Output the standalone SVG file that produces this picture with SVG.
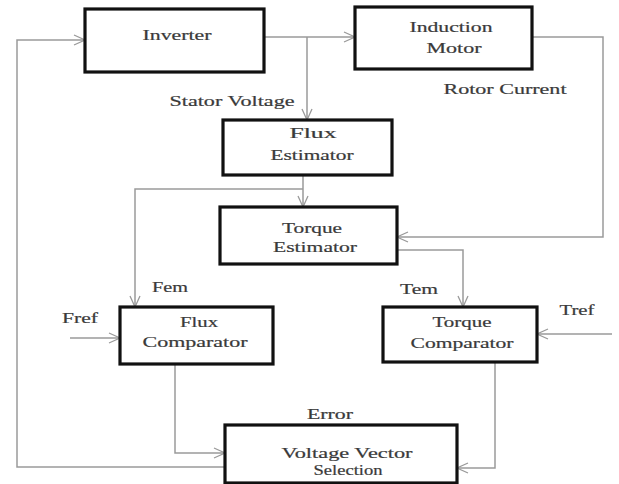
<svg xmlns="http://www.w3.org/2000/svg" width="619" height="484" viewBox="0 0 619 484">
<style>
.box{fill:#fff;stroke:#111;stroke-width:3.2}
.t{font-family:"Liberation Serif","Times New Roman",serif;font-size:14px;fill:#3a3a3a;text-anchor:middle;stroke:#3a3a3a;stroke-width:0.2}
.c{fill:none;stroke:#9a9a9a;stroke-width:1.5;marker-end:url(#a)}
</style>
<defs>
<marker id="a" markerWidth="14" markerHeight="12" refX="12" refY="6" orient="auto" markerUnits="userSpaceOnUse">
<path d="M1,1 L12,6 L1,11" fill="none" stroke="#9a9a9a" stroke-width="1.3"/>
</marker>
</defs>
<rect width="619" height="484" fill="#fff"/>
<g id="connectors">
<path class="c" d="M225,467 H17 V40 H85"/>
<path class="c" d="M264,37 H355"/>
<path class="c" d="M307,37 V120"/>
<path class="c" d="M532,37 H603 V237 H397"/>
<path class="c" d="M303,175 V207"/>
<path class="c" d="M303,189 H135 V307"/>
<path class="c" d="M397,250 H463 V307"/>
<path class="c" d="M70,338 H120"/>
<path class="c" d="M612,334 H537"/>
<path class="c" d="M175,364 V453 H225"/>
<path class="c" d="M495,362 V468 H457"/>
</g>
<g id="inverter">
<rect class="box" x="85" y="9" width="179" height="63"/>
<text class="t" x="177" y="40" textLength="69" lengthAdjust="spacingAndGlyphs">Inverter</text>
</g>
<g id="induction-motor">
<rect class="box" x="355" y="7" width="177" height="62"/>
<text class="t" x="451" y="32" textLength="83" lengthAdjust="spacingAndGlyphs">Induction</text>
<text class="t" x="454" y="53" textLength="55" lengthAdjust="spacingAndGlyphs">Motor</text>
</g>
<g id="flux-estimator">
<rect class="box" x="223" y="120" width="169" height="55"/>
<text class="t" x="313" y="138" textLength="47" lengthAdjust="spacingAndGlyphs">Flux</text>
<text class="t" x="312" y="160" textLength="83" lengthAdjust="spacingAndGlyphs">Estimator</text>
</g>
<g id="torque-estimator">
<rect class="box" x="220" y="207" width="177" height="57"/>
<text class="t" x="312" y="233" textLength="60" lengthAdjust="spacingAndGlyphs">Torque</text>
<text class="t" x="315" y="252" textLength="84" lengthAdjust="spacingAndGlyphs">Estimator</text>
</g>
<g id="flux-comparator">
<rect class="box" x="120" y="307" width="153" height="57"/>
<text class="t" x="199" y="327" textLength="38" lengthAdjust="spacingAndGlyphs">Flux</text>
<text class="t" x="195" y="347" textLength="105" lengthAdjust="spacingAndGlyphs">Comparator</text>
</g>
<g id="torque-comparator">
<rect class="box" x="383" y="307" width="154" height="55"/>
<text class="t" x="462" y="327" textLength="59" lengthAdjust="spacingAndGlyphs">Torque</text>
<text class="t" x="462" y="348" textLength="103" lengthAdjust="spacingAndGlyphs">Comparator</text>
</g>
<g id="voltage-vector-selection">
<rect class="box" x="225" y="425" width="232" height="58"/>
<text class="t" x="347" y="458" textLength="131" lengthAdjust="spacingAndGlyphs">Voltage Vector</text>
<text class="t" x="348" y="475" textLength="69" lengthAdjust="spacingAndGlyphs">Selection</text>
</g>
<g id="labels">
<text class="t" x="232" y="106" textLength="125" lengthAdjust="spacingAndGlyphs">Stator Voltage</text>
<text class="t" x="505" y="94" textLength="123" lengthAdjust="spacingAndGlyphs">Rotor Current</text>
<text class="t" x="170" y="292" textLength="36" lengthAdjust="spacingAndGlyphs">Fem</text>
<text class="t" x="80" y="323" textLength="36" lengthAdjust="spacingAndGlyphs">Fref</text>
<text class="t" x="419" y="294" textLength="38" lengthAdjust="spacingAndGlyphs">Tem</text>
<text class="t" x="577" y="315" textLength="35" lengthAdjust="spacingAndGlyphs">Tref</text>
<text class="t" x="330" y="419" textLength="46" lengthAdjust="spacingAndGlyphs">Error</text>
</g>
</svg>
